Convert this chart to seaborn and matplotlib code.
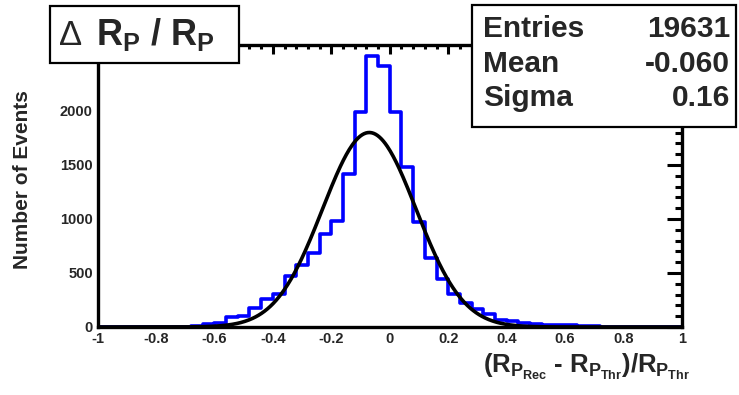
import numpy as np
import pandas as pd
import matplotlib
matplotlib.use("Agg")
import matplotlib.pyplot as plt
import seaborn as sns
from matplotlib.patches import Rectangle
from matplotlib.ticker import MultipleLocator, FuncFormatter

# ---------------- data ----------------
x_range = (-1.0, 1.0)
bin_width = 0.04
# bin contents, left to right, bins of width 0.04 from -1 to 1
counts = [0, 0, 0, 0, 0, 0, 0, 3, 8, 28,
          38, 90, 100, 180, 255, 308, 470, 570, 685, 865,
          980, 1418, 1987, 2510, 2420, 1987, 1485, 975, 635, 440,
          305, 222, 164, 124, 68, 52, 40, 30, 22, 18,
          14, 10, 6, 4, 2, 1, 0, 0, 0, 0]
fit_amp = 1800.0
fit_mean = -0.07
fit_sigma = 0.16
stats_names = ["Entries", "Mean", "Sigma"]
stats_values = ["19631", "-0.060", "0.16"]
x_ticks = [-1, -0.8, -0.6, -0.4, -0.2, 0, 0.2, 0.4, 0.6, 0.8, 1]
y_ticks = [0, 500, 1000, 1500, 2000, 2500]

# ---------------- style ----------------
sns.set_style("white")
plt.rcParams['font.family'] = ['Liberation Sans', 'DejaVu Sans']
plt.rcParams['font.weight'] = 'bold'
plt.rcParams['mathtext.fontset'] = 'custom'
plt.rcParams['mathtext.rm'] = 'Liberation Sans:bold'
plt.rcParams['mathtext.it'] = 'Liberation Sans:bold'
plt.rcParams['mathtext.bf'] = 'Liberation Sans:bold'
plt.rcParams['mathtext.sf'] = 'Liberation Sans:bold'

W, H = 739, 395
fig = plt.figure(figsize=(W / 100, H / 100), dpi=100)
fig.patch.set_facecolor('white')

def fx(px):
    return px / W

def fy(py):
    return 1 - py / H

ax_l, ax_r, ax_t, ax_b = 97.5, 682, 45, 327
ax = fig.add_axes([fx(ax_l), fy(ax_b), fx(ax_r - ax_l), (ax_b - ax_t) / H])

n_bins = len(counts)
centers = [x_range[0] + bin_width * (i + 0.5) for i in range(n_bins)]
df = pd.DataFrame({"x": centers, "n": counts})
sns.histplot(data=df, x="x", weights="n", binwidth=bin_width, binrange=x_range,
             element="step", fill=False, color="#0000ff", linewidth=2.6, ax=ax)

xs = np.linspace(x_range[0], x_range[1], 600)
fit_df = pd.DataFrame({"x": xs,
                       "y": fit_amp * np.exp(-0.5 * ((xs - fit_mean) / fit_sigma) ** 2)})
sns.lineplot(data=fit_df, x="x", y="y", color="black", linewidth=2.6,
             estimator=None, sort=False, ax=ax)

ax.set_xlim(*x_range)
ax.set_ylim(0, 2610)
for s in ax.spines.values():
    s.set_linewidth(2.4)
    s.set_color('black')

ax.set_xticks(x_ticks)
ax.set_yticks(y_ticks)
ax.xaxis.set_minor_locator(MultipleLocator(0.04))
ax.yaxis.set_minor_locator(MultipleLocator(100))
ax.xaxis.set_major_formatter(FuncFormatter(lambda v, p: "%g" % round(v, 2)))
ax.tick_params(which='both', direction='in', top=True, right=True,
               width=2.2, color='black', labelsize=10.5)
ax.tick_params(axis='x', which='major', length=6.5, pad=3.5)
ax.tick_params(axis='x', which='minor', length=3.2)
ax.tick_params(axis='y', which='major', length=11, pad=3.4)
ax.tick_params(axis='y', which='minor', length=5)
for lab in ax.get_xticklabels() + ax.get_yticklabels():
    lab.set_fontweight('bold')

ax.set_xlabel("")
ax.set_ylabel("Number of Events", fontsize=15, fontweight='bold')
ax.yaxis.set_label_coords((32 - ax_l) / (ax_r - ax_l), (ax_b - 180) / (ax_b - ax_t))

fig.text(fx(690), fy(373), r"$(R_{P_{Rec}}$ - $R_{P_{Thr}})/R_{P_{Thr}}$",
         ha='right', va='baseline', fontsize=18.5)

# title box
fig.add_artist(Rectangle((fx(50), fy(63)), fx(189), 57 / H, transform=fig.transFigure,
                         facecolor='white', edgecolor='black', linewidth=1.6, zorder=10))
fig.text(fx(59), fy(45), "\u0394", ha='left', va='baseline', fontsize=25,
         fontweight='normal', zorder=11)
fig.text(fx(96), fy(45), r"R$_{P}$ / R$_{P}$", ha='left', va='baseline',
         fontsize=26, fontweight='bold', zorder=11)

# stats box
fig.add_artist(Rectangle((fx(472), fy(127)), fx(264), 122 / H, transform=fig.transFigure,
                         facecolor='white', edgecolor='black', linewidth=1.6, zorder=10))
row_y = [37, 72, 106]
for name, val, yy in zip(stats_names, stats_values, row_y):
    fig.text(fx(483), fy(yy), name, ha='left', va='baseline', fontsize=21.5,
             fontweight='bold', zorder=11)
    fig.text(fx(730), fy(yy), val, ha='right', va='baseline', fontsize=21.5,
             fontweight='bold', zorder=11)

fig.savefig("out.png", dpi=100)
